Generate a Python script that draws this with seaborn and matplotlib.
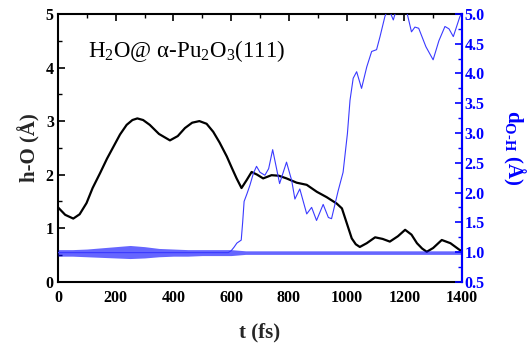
import numpy as np
import pandas as pd
import matplotlib
matplotlib.use("Agg")
import matplotlib.pyplot as plt
from matplotlib.ticker import MultipleLocator
import seaborn as sns

# ---- data ----
# h-O distance (left axis)
t_hO = [0, 25, 53, 75, 99, 120, 146, 170, 192, 215, 238, 258, 275, 295, 318, 350, 388, 415, 440, 465, 490,
        515, 538, 560, 585, 603, 619, 636, 654, 671, 690, 711, 740, 765, 792, 827, 862, 897, 931, 966,
        984, 1001, 1018, 1032, 1046, 1070, 1099, 1125, 1150, 1178, 1203, 1225, 1244, 1262, 1278, 1300,
        1330, 1360, 1393, 1400]
hO = [1.39, 1.25, 1.18, 1.26, 1.47, 1.75, 2.03, 2.30, 2.52, 2.75, 2.93, 3.02, 3.05, 3.02, 2.93, 2.76, 2.64, 2.72, 2.87,
      2.97, 3.00, 2.95, 2.80, 2.60, 2.34, 2.12, 1.93, 1.75, 1.90, 2.05, 2.00, 1.93, 1.99, 1.98, 1.93, 1.85, 1.81,
      1.68, 1.58, 1.46, 1.37, 1.09, 0.81, 0.70, 0.65, 0.72, 0.83, 0.80, 0.75, 0.85, 0.97, 0.88, 0.72, 0.62, 0.56,
      0.63, 0.78, 0.72, 0.59, 0.58]

# breaking O-H distance (right axis)
t_break = [0, 590, 600, 610, 620, 635, 640, 645, 655, 665, 677, 688, 700, 717, 730, 744, 768, 792, 810, 821,
           838, 862, 879, 896, 919, 937, 948, 971, 988, 1003, 1012, 1023, 1035, 1052, 1070, 1087, 1104, 1116,
           1133, 1145, 1162, 1180, 1208, 1225, 1237, 1250, 1275, 1300, 1320, 1341, 1355, 1370, 1393, 1400]
d_break = [0.99, 0.99, 1.02, 1.08, 1.15, 1.20, 1.50, 1.85, 1.98, 2.12, 2.32, 2.44, 2.34, 2.29, 2.40, 2.72, 2.15,
           2.51, 2.20, 1.89, 2.06, 1.64, 1.75, 1.53, 1.80, 1.58, 1.56, 2.03, 2.34, 2.99, 3.55, 3.92, 4.03, 3.75,
           4.11, 4.37, 4.40, 4.62, 4.96, 5.10, 4.90, 5.20, 5.05, 4.70, 4.78, 4.76, 4.45, 4.23, 4.55, 4.79, 4.75,
           4.62, 4.96, 5.00]

# vibrating O-H band (right axis): envelope of the fast oscillation
t_band = [0, 50, 100, 150, 200, 250, 300, 350, 400, 450, 500, 550, 600, 650, 700, 800, 900, 1000, 1100, 1200, 1300, 1400]
band_hi = [1.04, 1.04, 1.05, 1.07, 1.09, 1.11, 1.09, 1.06, 1.05, 1.04, 1.04, 1.04, 1.04, 1.02, 1.02, 1.02, 1.02, 1.02, 1.02, 1.02, 1.02, 1.02]
band_lo = [0.93, 0.93, 0.92, 0.91, 0.90, 0.89, 0.90, 0.92, 0.93, 0.93, 0.94, 0.94, 0.94, 0.96, 0.96, 0.96, 0.96, 0.96, 0.96, 0.96, 0.96, 0.96]

df_hO = pd.DataFrame({"t": t_hO, "v": hO})
df_br = pd.DataFrame({"t": t_break, "v": d_break})

sns.set_theme(style="white")
plt.rcParams['font.family'] = ['Liberation Serif', 'DejaVu Serif']
plt.rcParams['mathtext.fontset'] = 'custom'
plt.rcParams['mathtext.rm'] = 'Liberation Serif'
plt.rcParams['mathtext.bf'] = 'Liberation Serif:bold'

fig = plt.figure(figsize=(5.29, 3.47), dpi=100)
ax = fig.add_axes([0.1096, 0.188, 0.7637, 0.7717])
ax2 = ax.twinx()

BLUE = "#0000ff"

sns.lineplot(data=df_hO, x="t", y="v", ax=ax, color="black", lw=1.6, sort=False, estimator=None)
ax2.fill_between(t_band, band_lo, band_hi, color=BLUE, alpha=0.6, lw=0)
sns.lineplot(data=df_br, x="t", y="v", ax=ax2, color="#3a3aff", lw=0.8, sort=False, estimator=None)

ax.set_xlim(0, 1400)
ax.set_ylim(0, 5)
ax2.set_ylim(0.5, 5.0)

ax.xaxis.set_major_locator(MultipleLocator(200))
ax.xaxis.set_minor_locator(MultipleLocator(100))
ax.yaxis.set_major_locator(MultipleLocator(1))
ax.yaxis.set_minor_locator(MultipleLocator(0.5))
ax2.yaxis.set_major_locator(MultipleLocator(0.5))
ax2.yaxis.set_minor_locator(MultipleLocator(0.25))

ax.tick_params(axis='both', which='both', direction='in', top=True, right=False, colors='black')
ax.tick_params(which='major', length=5, width=1.2, labelsize=11.5)
ax.tick_params(axis='x', which='major', pad=6)
ax.tick_params(axis='y', which='major', pad=3)
ax.tick_params(which='minor', length=3, width=1.0)
ax2.tick_params(axis='y', which='both', direction='in', colors=BLUE, labelcolor=BLUE)
ax2.tick_params(axis='y', which='major', length=5, width=1.2, labelsize=11.5, pad=2)
ax2.tick_params(axis='y', which='minor', length=3, width=1.0)

for lab in ax.get_xticklabels() + ax.get_yticklabels() + ax2.get_yticklabels():
    lab.set_fontweight('bold')

for s in ax.spines.values():
    s.set_color('black'); s.set_linewidth(1.5)
for name, s in ax2.spines.items():
    s.set_linewidth(1.5)
    s.set_color(BLUE if name == 'right' else 'black')
ax2.spines['left'].set_visible(False)
ax2.spines['top'].set_visible(False)
ax2.spines['bottom'].set_visible(False)

ax.set_xlabel("t (fs)", fontsize=15, fontweight='bold', labelpad=12)
ax.set_ylabel("h-O (Å)", fontsize=15, fontweight='bold', labelpad=4)
ax2.set_ylabel(r"d$_\mathbf{O\text{-}H}$ (Å)", fontsize=15, fontweight='bold', color=BLUE, rotation=270, labelpad=30)

ax.text(0.075, 0.86, r"H$_2$O@ α-Pu$_2$O$_3$(111)", transform=ax.transAxes, fontsize=16.5,
        color='black', ha='left', va='center')

fig.savefig("out.png", dpi=100, facecolor='white')
